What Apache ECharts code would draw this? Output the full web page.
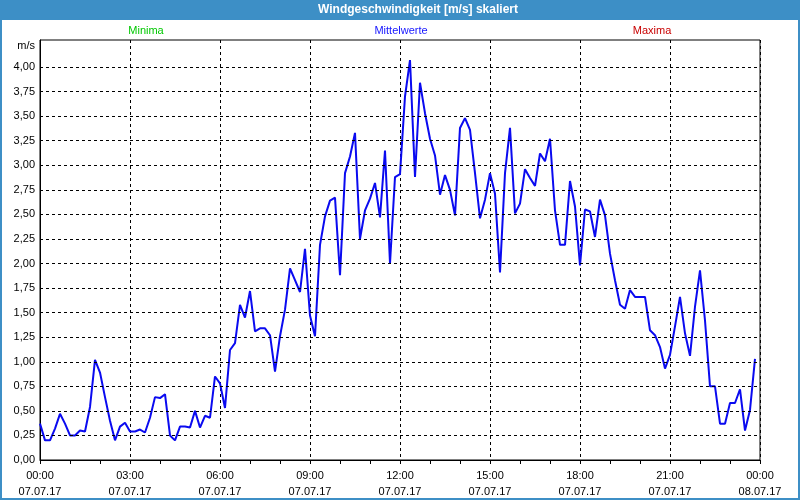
<!DOCTYPE html>
<html><head><meta charset="utf-8">
<script src="https://cdn.jsdelivr.net/npm/echarts@6/dist/echarts.min.js"></script>
<style>html,body{margin:0;padding:0;background:#fff}#c{width:800px;height:500px}</style>
</head><body><div id="c"></div><script>
const chartTitle = 'Windgeschwindigkeit [m/s] skaliert';
const unitLabel = 'm/s';
const dayLabels = ['07.07.17', '08.07.17'];
const legendNames = ['Minima', 'Mittelwerte', 'Maxima'];
const legendColors = ['#00c800', '#1414ff', '#c80000'];
const legendX = [146, 401, 652];
// 10-minute mean wind speed, 00:00 .. 23:50
const meanValues = [
  0.37, 0.20, 0.20, 0.32, 0.47, 0.37, 0.25, 0.25, 0.30, 0.29, 0.54, 1.02,
  0.89, 0.64, 0.40, 0.20, 0.34, 0.38, 0.29, 0.29, 0.31, 0.28, 0.43, 0.64,
  0.63, 0.67, 0.25, 0.20, 0.34, 0.34, 0.33, 0.50, 0.33, 0.45, 0.43, 0.85,
  0.78, 0.53, 1.12, 1.19, 1.58, 1.45, 1.72, 1.31, 1.34, 1.34, 1.27, 0.90,
  1.26, 1.53, 1.95, 1.83, 1.71, 2.15, 1.47, 1.26, 2.19, 2.48, 2.64, 2.67,
  1.88, 2.92, 3.09, 3.33, 2.25, 2.54, 2.66, 2.82, 2.47, 3.15, 2.00, 2.88,
  2.91, 3.70, 4.07, 2.88, 3.84, 3.53, 3.27, 3.10, 2.70, 2.90, 2.75, 2.49,
  3.38, 3.48, 3.36, 2.92, 2.46, 2.65, 2.92, 2.71, 1.91, 2.92, 3.38, 2.51,
  2.61, 2.96, 2.87, 2.79, 3.12, 3.04, 3.27, 2.54, 2.19, 2.19, 2.84, 2.58,
  1.98, 2.55, 2.53, 2.27, 2.65, 2.49, 2.10, 1.83, 1.58, 1.54, 1.73, 1.66,
  1.66, 1.66, 1.32, 1.27, 1.15, 0.93, 1.07, 1.36, 1.66, 1.29, 1.06, 1.56,
  1.93, 1.42, 0.75, 0.75, 0.37, 0.37, 0.58, 0.58, 0.72, 0.30, 0.51, 1.03
];
const yTicks = [0, 0.25, 0.5, 0.75, 1, 1.25, 1.5, 1.75, 2, 2.25, 2.5, 2.75, 3, 3.25, 3.5, 3.75, 4];

function pad(n) { return (n < 10 ? '0' : '') + n; }
const categories = [];
for (let i = 0; i <= 144; i++) {
  const m = i * 10;
  const h = Math.floor(m / 60) % 24;
  categories.push(pad(h) + ':' + pad(m % 60) + '\n' + (i < 144 ? dayLabels[0] : dayLabels[1]));
}

const FONT = 'Liberation Sans';
const chart = echarts.init(document.getElementById('c'), null, {renderer: 'canvas'});
const graphics = [
  {type: 'rect', z: 0, silent: true, shape: {x: 0, y: 0, width: 800, height: 20}, style: {fill: '#3d8fc6'}},
  {type: 'rect', z: 0, silent: true, shape: {x: 1, y: 1, width: 798, height: 498}, style: {fill: null, stroke: '#3d8fc6', lineWidth: 2}},
  {type: 'text', z: 10, silent: true, x: 418, y: 10, style: {text: chartTitle, fill: '#ffffff', font: 'bold 12px "' + FONT + '"', align: 'center', verticalAlign: 'middle'}},
  {type: 'text', z: 10, silent: true, x: 35, y: 46, style: {text: unitLabel, fill: '#000', font: '11px "' + FONT + '"', align: 'right', verticalAlign: 'middle'}}
];
legendNames.forEach((n, i) => graphics.push({type: 'text', z: 10, silent: true, x: legendX[i], y: 31,
  style: {text: n, fill: legendColors[i], font: '11px "' + FONT + '"', align: 'center', verticalAlign: 'middle'}}));

chart.setOption({
  animation: false,
  backgroundColor: '#ffffff',
  graphic: graphics,
  grid: {left: 40, right: 40, top: 40, bottom: 40, show: true, borderColor: '#000', borderWidth: 1, backgroundColor: '#fff'},
  xAxis: {
    type: 'category', data: categories, boundaryGap: false,
    axisLine: {lineStyle: {color: '#000', width: 1}},
    axisTick: {interval: 5, length: 4, lineStyle: {color: '#000'}},
    axisLabel: {interval: 17, color: '#000', fontFamily: FONT, fontSize: 11, lineHeight: 16, margin: 8},
    splitLine: {show: true, interval: 17, lineStyle: {color: '#000', type: [3, 3], width: 1}}
  },
  yAxis: {
    type: 'value', min: 0, max: 4.275, interval: 0.25,
    axisLine: {show: true, lineStyle: {color: '#000', width: 1}},
    axisTick: {show: false},
    splitLine: {show: false},
    axisLabel: {color: '#000', fontFamily: FONT, fontSize: 11, margin: 5,
      formatter: v => v > 4.001 ? '' : v.toFixed(2).replace('.', ',')}
  },
  series: [{
    name: legendNames[1], type: 'line', data: meanValues, showSymbol: false,
    lineStyle: {color: '#0a0af0', width: 2}, itemStyle: {color: '#0a0af0'},
    markLine: {silent: true, symbol: 'none', label: {show: false}, animation: false,
      lineStyle: {color: '#000', type: [3, 3], width: 1},
      data: yTicks.map(v => ({yAxis: v}))}
  }]
});
</script></body></html>
